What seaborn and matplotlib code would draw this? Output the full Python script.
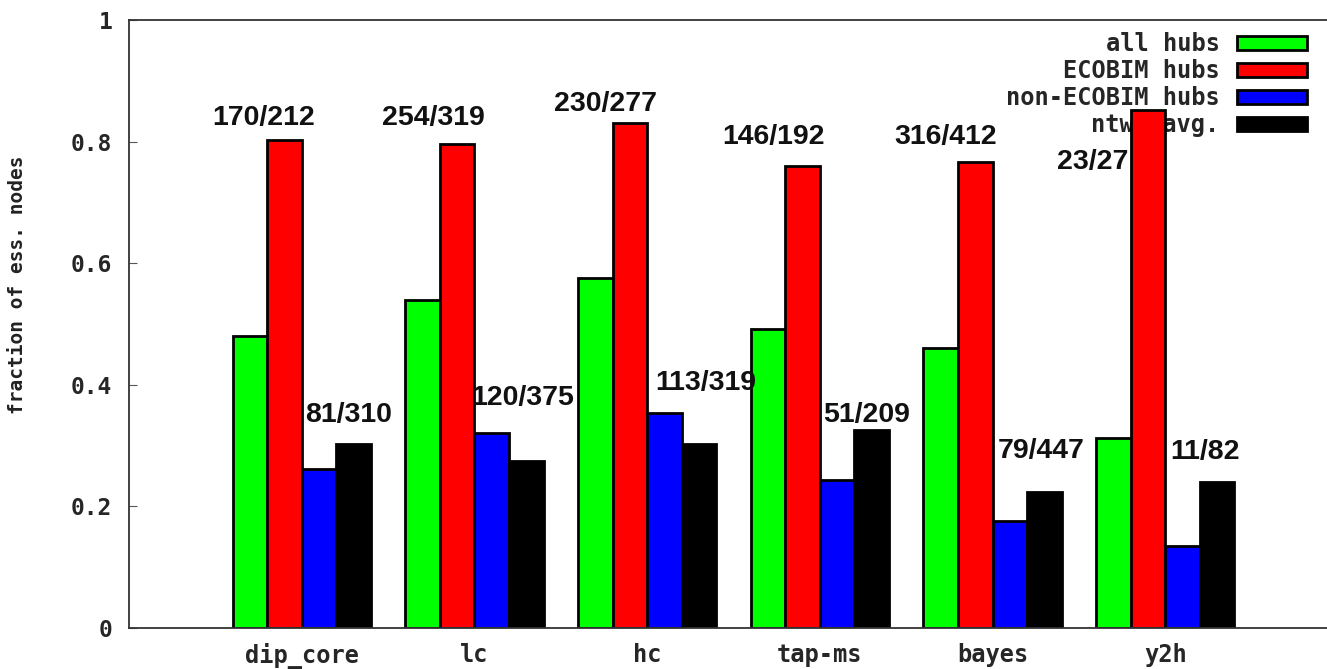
import matplotlib
matplotlib.use("Agg")
import matplotlib.pyplot as plt
import pandas as pd
import seaborn as sns

# Datasets and series
datasets = ["dip_core", "lc", "hc", "tap-ms", "bayes", "y2h"]
series = ["all hubs", "ECOBIM hubs", "non-ECOBIM hubs", "ntwk.avg."]
colors = ["#00ff00", "#ff0000", "#0000ff", "#000000"]

# Essential / total counts for ECOBIM and non-ECOBIM hubs
ecobim_ess = [170, 254, 230, 146, 316, 23]
ecobim_tot = [212, 319, 277, 192, 412, 27]
non_ecobim_ess = [81, 120, 113, 51, 79, 11]
non_ecobim_tot = [310, 375, 319, 209, 447, 82]

# Fractions for all hubs and network average
all_hubs = [0.481, 0.539, 0.576, 0.491, 0.460, 0.312]
ntwk_avg = [0.303, 0.275, 0.303, 0.325, 0.224, 0.240]

ecobim_frac = [e / t for e, t in zip(ecobim_ess, ecobim_tot)]
non_ecobim_frac = [e / t for e, t in zip(non_ecobim_ess, non_ecobim_tot)]

# Placement of the count annotations (offset from group centre, height)
ecobim_lbl_dx = [-0.22, -0.24, -0.24, -0.27, -0.27, -0.42]
ecobim_lbl_y = [0.839, 0.839, 0.862, 0.808, 0.808, 0.766]
non_ecobim_lbl_dx = [0.27, 0.28, 0.34, 0.27, 0.28, 0.23]
non_ecobim_lbl_y = [0.350, 0.378, 0.403, 0.350, 0.291, 0.289]

rows = []
for name, vals in zip(series, [all_hubs, ecobim_frac, non_ecobim_frac, ntwk_avg]):
    for d, v in zip(datasets, vals):
        rows.append({"dataset": d, "series": name, "fraction": v})
df = pd.DataFrame(rows)

sns.set_style("white")
plt.rcParams["font.family"] = ["DejaVu Sans Mono"]

W, H = 1327, 669
fig = plt.figure(figsize=(W / 100, H / 100), dpi=100)
ax_left, ax_right, ax_bottom, ax_top = 129, 1338, 628, 20
ax = fig.add_axes([ax_left / W, (H - ax_bottom) / H,
                   (ax_right - ax_left) / W, (ax_bottom - ax_top) / H])

sns.barplot(data=df, x="dataset", y="fraction", hue="series",
            order=datasets, hue_order=series, palette=colors,
            saturation=1, edgecolor="black", linewidth=2.0,
            width=0.8, ax=ax)

ax.set_xlim(-1, 6)
ax.set_ylim(0, 1)

mono_bold = dict(family="DejaVu Sans Mono", weight="bold")
ax.set_yticks([0, 0.2, 0.4, 0.6, 0.8, 1.0])
ax.set_yticklabels(["0", "0.2", "0.4", "0.6", "0.8", "1"], fontsize=16.5, **mono_bold)
ax.set_xticks(range(len(datasets)))
ax.set_xticklabels(datasets, fontsize=17, **mono_bold)
ax.tick_params(axis="y", direction="in", length=6, width=0.8, color="#555555",
               right=True, left=True, pad=12)
ax.tick_params(axis="x", length=0, pad=11)

ax.set_xlabel("")
ax.set_ylabel("fraction of ess. nodes", fontsize=14, family="DejaVu Sans Mono",
              weight="bold", color="#222222")
ax.yaxis.set_label_coords(-(129 - 27) / (ax_right - ax_left), (628 - 285) / 608)

for s in ax.spines.values():
    s.set_visible(True)
    s.set_color("#333333")
    s.set_linewidth(1.3)

# Count annotations above the bars
lbl_font = dict(family="Liberation Sans", weight="bold", fontsize=20.5, color="#111111",
                ha="center", va="center")
for i in range(len(datasets)):
    ax.text(i + ecobim_lbl_dx[i], ecobim_lbl_y[i],
            f"{ecobim_ess[i]}/{ecobim_tot[i]}", **lbl_font)
    ax.text(i + non_ecobim_lbl_dx[i], non_ecobim_lbl_y[i],
            f"{non_ecobim_ess[i]}/{non_ecobim_tot[i]}", **lbl_font)

# Key in the top right corner, drawn beneath the bars
handles, labels = ax.get_legend_handles_labels()
if ax.get_legend() is not None:
    ax.get_legend().remove()
leg = ax.legend(handles, labels, loc="upper right",
                bbox_to_anchor=(1307 / W, (H - 32) / H),
                bbox_transform=fig.transFigure,
                frameon=False, markerfirst=False,
                handlelength=2.95, handleheight=0.55, handletextpad=0.75,
                labelspacing=0.13, borderpad=0, borderaxespad=0,
                prop=dict(family="DejaVu Sans Mono", weight="bold", size=17))
for h in leg.legend_handles:
    h.set_edgecolor("black")
    h.set_linewidth(2.0)
leg.set_zorder(0.5)

fig.savefig("out.png", dpi=100, facecolor="white")
